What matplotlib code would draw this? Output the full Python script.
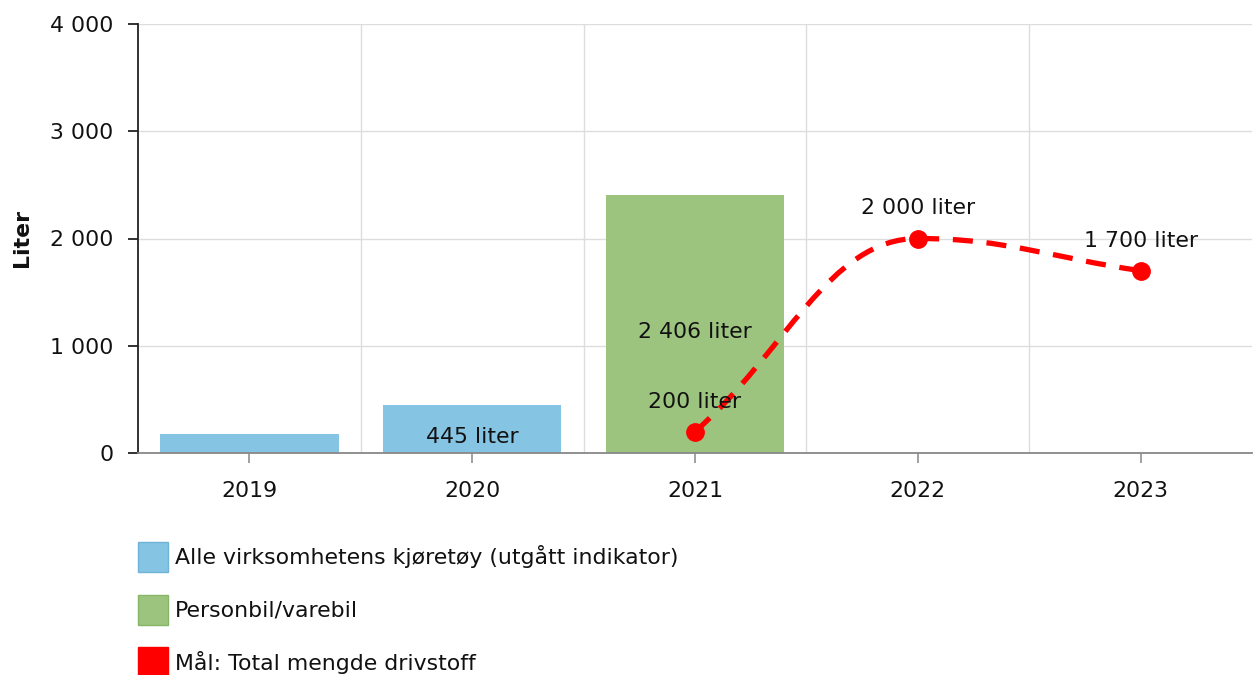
import matplotlib
matplotlib.use("Agg")
import matplotlib.pyplot as plt
from matplotlib.path import Path
from matplotlib.patches import PathPatch, Rectangle

plt.rcParams['font.family'] = ['DejaVu Sans']

categories = ["2019", "2020", "2021", "2022", "2023"]
series_all = [180, 445, None, None, None]          # Alle virksomhetens kjøretøy
series_car = [None, None, 2406, None, None]        # Personbil/varebil
goal_idx = [2, 3, 4]
goal_vals = [200, 2000, 1700]
y_ticks = [0, 1000, 2000, 3000, 4000]
legend_labels = ["Alle virksomhetens kjøretøy (utgått indikator)",
                 "Personbil/varebil",
                 "Mål: Total mengde drivstoff"]

C_BLUE = "#86c4e3"
C_GREEN = "#9dc47f"
C_RED = "#ff0000"
FS = 15.8
W, H = 1254, 675


def fmt(v):
    return f"{v:,}".replace(",", " ")


fig = plt.figure(figsize=(W / 100, H / 100), dpi=100)
ax = fig.add_axes([138 / W, 1 - 453 / H, (1252 - 138) / W, (453 - 24) / H])

x = list(range(len(categories)))
bw = 0.8
for i, v in enumerate(series_all):
    if v is not None:
        ax.bar(i, v, width=bw, color=C_BLUE, zorder=2)
        if v > 300:
            ax.annotate(f"{fmt(v)} liter", (i, v / 2), xytext=(0, -8), textcoords="offset pixels",
                        ha="center", va="center", fontsize=FS, color="#111", zorder=5)
for i, v in enumerate(series_car):
    if v is not None:
        ax.bar(i, v, width=bw, color=C_GREEN, zorder=2)
        ax.annotate(f"{fmt(v)} liter", (i, v / 2), xytext=(0, -8), textcoords="offset pixels",
                    ha="center", va="center", fontsize=FS, color="#111", zorder=5)

# spline control points (smoothing 1.5)
sm = 1.5
den = sm + 1
n = len(goal_idx)
ctrl = []
for k in range(n):
    px, py = goal_idx[k], goal_vals[k]
    if 0 < k < n - 1:
        lx, ly = goal_idx[k - 1], goal_vals[k - 1]
        nx, ny = goal_idx[k + 1], goal_vals[k + 1]
        lcx = (sm * px + lx) / den
        lcy = (sm * py + ly) / den
        rcx = (sm * px + nx) / den
        rcy = (sm * py + ny) / den
        corr = ((rcy - lcy) * (rcx - px)) / (rcx - lcx) + py - rcy
        lcy += corr
        rcy += corr
        if lcy > ly and lcy > py:
            lcy = max(ly, py); rcy = 2 * py - lcy
        elif lcy < ly and lcy < py:
            lcy = min(ly, py); rcy = 2 * py - lcy
        if rcy > ny and rcy > py:
            rcy = max(ny, py); lcy = 2 * py - rcy
        elif rcy < ny and rcy < py:
            rcy = min(ny, py); lcy = 2 * py - rcy
        ctrl.append(((lcx, lcy), (rcx, rcy)))
    elif k == 0:
        nx, ny = goal_idx[k + 1], goal_vals[k + 1]
        c = ((sm * px + nx) / den, (sm * py + ny) / den)
        ctrl.append((c, c))
    else:
        lx, ly = goal_idx[k - 1], goal_vals[k - 1]
        c = ((sm * px + lx) / den, (sm * py + ly) / den)
        ctrl.append((c, c))

verts = [(goal_idx[0], goal_vals[0])]
codes = [Path.MOVETO]
for k in range(1, n):
    verts += [ctrl[k - 1][1], ctrl[k][0], (goal_idx[k], goal_vals[k])]
    codes += [Path.CURVE4] * 3
patch = PathPatch(Path(verts, codes), facecolor="none", edgecolor=C_RED, lw=3.8,
                  linestyle=(0, (3.8, 2.6)), zorder=4, capstyle="butt")
ax.add_patch(patch)
ax.plot(goal_idx, goal_vals, linestyle="none", marker="o", markersize=12.5,
        color=C_RED, zorder=5)
for xi, v in zip(goal_idx, goal_vals):
    ax.annotate(f"{fmt(v)} liter", (xi, v), xytext=(0, 30), textcoords="offset pixels",
                ha="center", va="center", fontsize=FS, color="#111", zorder=6)

ax.set_xlim(-0.5, len(categories) - 0.5)
ax.set_ylim(0, 4000)
ax.set_yticks(y_ticks)
ax.set_yticklabels([fmt(v) for v in y_ticks])
ax.set_xticks(x)
ax.set_xticklabels(categories)

ax.grid(False)
for v in y_ticks[1:]:
    ax.axhline(v, color="#dddddd", lw=1, zorder=0)
for i in range(len(categories) - 1):
    ax.axvline(i + 0.5, color="#dddddd", lw=1, zorder=0)

for s in ["top", "right"]:
    ax.spines[s].set_visible(False)
ax.spines["left"].set_color("#222222")
ax.spines["left"].set_linewidth(1.3)
ax.spines["bottom"].set_color("#888888")
ax.spines["bottom"].set_linewidth(1.3)

ax.tick_params(axis="y", length=7, width=1.3, color="#222222", pad=10.5,
               labelsize=FS, labelcolor="#111")
ax.tick_params(axis="x", which="major", length=7, width=1.1, color="#888888", pad=13,
               labelsize=FS, labelcolor="#111")

fig.text(22 / W, 1 - 238 / H, "Liter", rotation=90, ha="center", va="center",
         fontsize=FS, fontweight="bold", color="#111")

# legend (manual, figure pixel layout)
leg_colors = [(C_BLUE, "#6fb3d6"), (C_GREEN, "#86b565"), (C_RED, C_RED)]
row_y = [557, 610, 662]
for (fc, ec), lbl, yc in zip(leg_colors, legend_labels, row_y):
    fig.patches.append(Rectangle((138 / W, 1 - (yc + 15) / H), 30 / W, 30 / H,
                                 transform=fig.transFigure, facecolor=fc, edgecolor=ec, lw=1))
    fig.text(175 / W, 1 - yc / H, lbl, ha="left", va="center", fontsize=FS, color="#111")

fig.savefig("out.png", dpi=100)
